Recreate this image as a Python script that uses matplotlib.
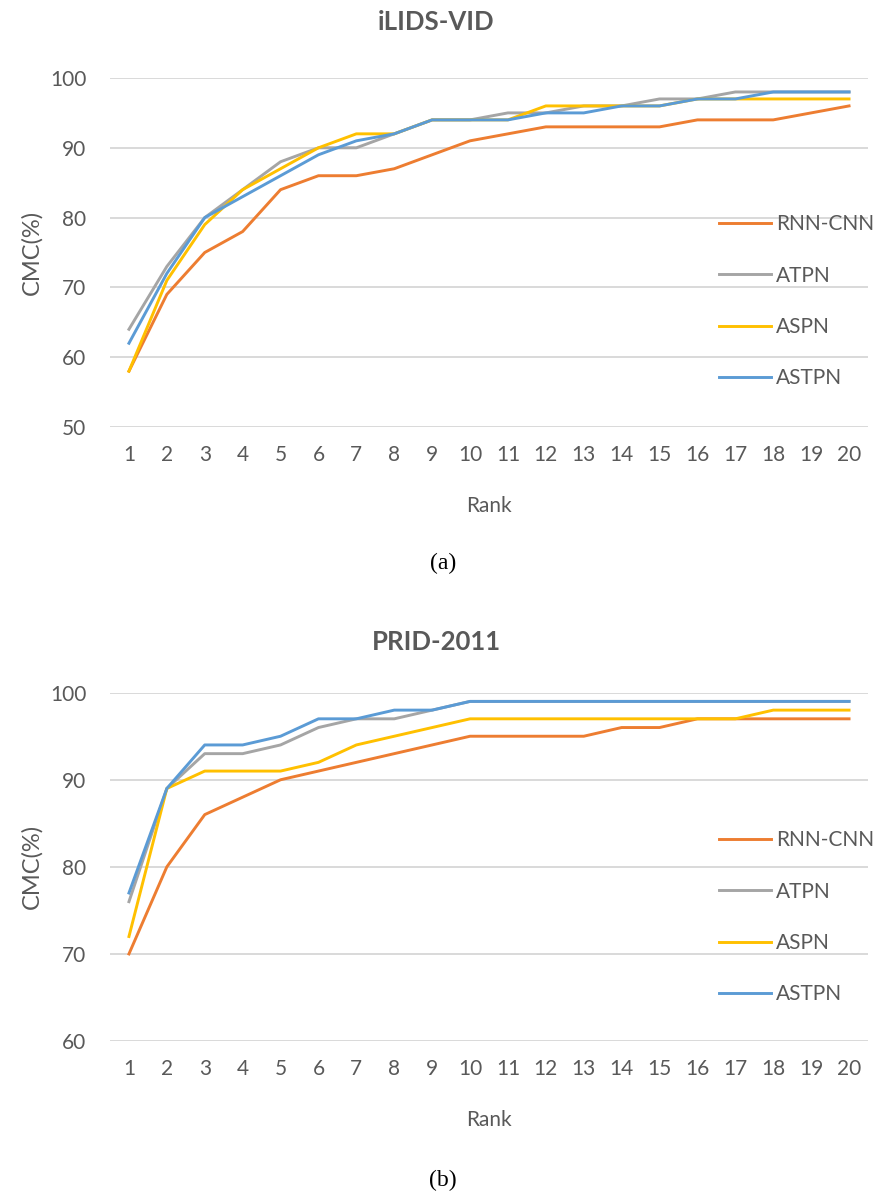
import numpy as np
import matplotlib
matplotlib.use("Agg")
import matplotlib.pyplot as plt

# ranks on the x axis
ranks = list(range(1, 21))
methods = ["RNN-CNN", "ATPN", "ASPN", "ASTPN"]
colors = ["#ED7D31", "#A5A5A5", "#FFC000", "#5B9BD5"]

# iLIDS-VID CMC values (%)
ilids_rnn = [58, 69, 75, 78, 84, 86, 86, 87, 89, 91, 92, 93, 93, 93, 93, 94, 94, 94, 95, 96]
ilids_atpn = [64, 73, 80, 84, 88, 90, 90, 92, 94, 94, 95, 95, 96, 96, 97, 97, 98, 98, 98, 98]
ilids_aspn = [58, 71, 79, 84, 87, 90, 92, 92, 94, 94, 94, 96, 96, 96, 96, 97, 97, 97, 97, 97]
ilids_astpn = [62, 72, 80, 83, 86, 89, 91, 92, 94, 94, 94, 95, 95, 96, 96, 97, 97, 98, 98, 98]

# PRID-2011 CMC values (%)
prid_rnn = [70, 80, 86, 88, 90, 91, 92, 93, 94, 95, 95, 95, 95, 96, 96, 97, 97, 97, 97, 97]
prid_atpn = [76, 89, 93, 93, 94, 96, 97, 97, 98, 99, 99, 99, 99, 99, 99, 99, 99, 99, 99, 99]
prid_aspn = [72, 89, 91, 91, 91, 92, 94, 95, 96, 97, 97, 97, 97, 97, 97, 97, 97, 98, 98, 98]
prid_astpn = [77, 89, 94, 94, 95, 97, 97, 98, 98, 99, 99, 99, 99, 99, 99, 99, 99, 99, 99, 99]

plt.rcParams['font.family'] = ['Lato', 'DejaVu Sans']
TXT = "#595959"

W, H = 886, 1201
fig = plt.figure(figsize=(W / 100, H / 100), dpi=100)


def draw_panel(rect, series, ylim, title, title_y, legend_y, caption, caption_y):
    ax = fig.add_axes(rect)
    for vals, name, c in zip(series, methods, colors):
        ax.plot(ranks, vals, color=c, lw=2.1, label=name)
    ax.set_xlim(0.5, 20.5)
    ax.set_ylim(*ylim)
    ax.set_yticks(np.arange(ylim[0], ylim[1] + 1, 10))
    ax.set_xticks(ranks)
    ax.grid(axis='y', color='#D9D9D9', lw=1.4)
    ax.set_axisbelow(True)
    for s in ax.spines.values():
        s.set_visible(False)
    ax.tick_params(length=0, labelsize=15, labelcolor=TXT)
    ax.tick_params(axis='y', pad=17)
    ax.tick_params(axis='x', pad=13)
    # axis titles placed in pixel terms
    h_px = rect[3] * H
    ax.set_xlabel("Rank", fontsize=15, color=TXT)
    ax.xaxis.set_label_coords(0.5, -69 / h_px)
    ax.set_ylabel("CMC(%)", fontsize=17, color=TXT, va='center')
    ax.yaxis.set_label_coords((32 - 110) / 758, 0.5)
    leg = ax.legend(loc='center left', bbox_to_anchor=((719 - 110) / 758, legend_y),
                    frameon=False, fontsize=15, handlelength=2.5, handletextpad=0.25,
                    labelspacing=1.5, borderpad=0, borderaxespad=0)
    for t in leg.get_texts():
        t.set_color(TXT)
    fig.text(436 / W, title_y, title, ha='center', va='center', fontsize=18.5,
             fontweight='bold', color=TXT)
    fig.text(443 / W, caption_y, caption, ha='center', va='center', fontsize=17,
             family='Liberation Serif', color='black')
    return ax


draw_panel([110 / W, 1 - 427 / H, 758 / W, 349 / H],
           [ilids_rnn, ilids_atpn, ilids_aspn, ilids_astpn], (50, 100),
           "iLIDS-VID", 1 - 22 / H, 0.36, "(a)", 1 - 563 / H)
draw_panel([110 / W, 1 - 1041 / H, 758 / W, 348.3 / H],
           [prid_rnn, prid_atpn, prid_aspn, prid_astpn], (60, 100),
           "PRID-2011", 1 - 642 / H, 0.355, "(b)", 1 - 1180 / H)

fig.savefig("out.png", dpi=100, facecolor='white')
